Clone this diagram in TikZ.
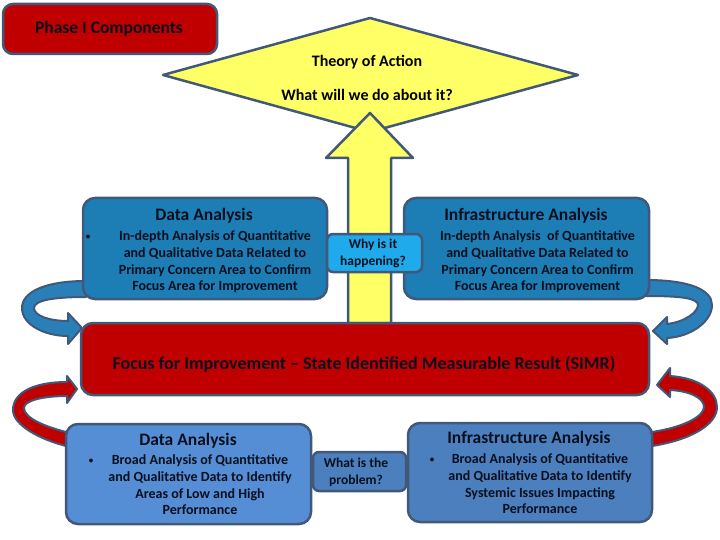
\documentclass[tikz,border=0pt]{standalone}
\usepackage{fontspec}
\setmainfont{Carlito}
\definecolor{bord}{RGB}{65,88,120}
\definecolor{simred}{RGB}{192,0,0}
\definecolor{topblue}{RGB}{29,125,181}
\definecolor{whyblue}{RGB}{30,170,235}
\definecolor{botblue}{RGB}{85,142,213}
\definecolor{botbluetwo}{RGB}{76,127,190}
\definecolor{yel}{RGB}{255,255,102}
\definecolor{arrblue}{RGB}{41,128,185}
\definecolor{txt}{RGB}{10,15,30}
\tikzset{
  box/.style={draw=bord, line width=2.5pt, rounded corners=12pt, inner sep=0pt, rectangle},
  smallbox/.style={box, rounded corners=6pt},
  shape outline/.style={draw=bord, line width=2pt, line join=round},
  titletext/.style={font=\fontsize{17.5}{20}\selectfont\bfseries, text=txt, inner sep=0pt},
  bodytext/.style={font=\fontsize{14}{16.7}\selectfont\bfseries, text=txt, inner sep=0pt, align=center},
  qtext/.style={font=\fontsize{13.5}{17}\selectfont\bfseries, text=txt, inner sep=0pt, align=center},
  bullettext/.style={font=\fontsize{9}{10}\selectfont\bfseries, text=txt, inner sep=0pt},
}
\begin{document}
\begin{tikzpicture}[x=1pt,y=-1pt]
\useasboundingbox (0,0) rectangle (720,540);
\fill[white] (0,0) rectangle (720,540);

% curved arrows (behind boxes)
\filldraw[shape outline, fill=arrblue]
  (86,281) .. controls (45,281) and (22,292) .. (22,308)
  .. controls (22,325) and (45,336) .. (68,336) -- (68,344) -- (82,328) -- (68,313) -- (68,321)
  .. controls (50,321) and (34,316) .. (34,308)
  .. controls (34,300) and (55,297) .. (86,297) -- cycle;
\filldraw[shape outline, fill=arrblue]
  (646,280) .. controls (690,280) and (712,290) .. (712,305)
  .. controls (712,322) and (690,337) .. (667,338) -- (667,344) -- (653,331) -- (667,317) -- (667,324)
  .. controls (685,322) and (698,312) .. (698,305)
  .. controls (698,298) and (680,296) .. (646,296) -- cycle;
\filldraw[shape outline, fill=simred]
  (67,382) .. controls (35,382) and (13,392) .. (13,410)
  .. controls (13,425) and (40,440) .. (70,447) -- (70,433)
  .. controls (45,427) and (24,418) .. (24,408)
  .. controls (24,400) and (45,396) .. (67,396) -- (67,403) -- (77,389) -- (67,376) -- cycle;
\filldraw[shape outline, fill=simred]
  (670,376) .. controls (700,378) and (717,392) .. (717,407)
  .. controls (717,425) and (690,440) .. (652,446) -- (652,432)
  .. controls (685,427) and (704,416) .. (704,407)
  .. controls (704,398) and (690,391) .. (670,390) -- (670,397) -- (657,385) -- (670,368) -- cycle;

% Phase box
\node[box, rounded corners=10pt, fill=simred, minimum width=214pt, minimum height=50pt] (phase) at (110,29) {};
\node[titletext] (phasetext) at (109,29) {Phase I Components};

% diamond
\filldraw[shape outline, fill=yel, line width=2.5pt] (163,75) -- (370,18) -- (578,75) -- (370,132) -- cycle;
\node[font=\fontsize{16}{19}\selectfont\bfseries, inner sep=0pt] (theory) at (367,62) {Theory of Action};
\node[font=\fontsize{16}{19}\selectfont\bfseries, inner sep=0pt] (whatwill) at (367,95) {What will we do about it?};

% up arrow
\filldraw[shape outline, fill=yel, line width=2.5pt]
  (348,323) -- (348,158) -- (326,158) -- (370,113) -- (413,158) -- (391,158) -- (391,323) -- cycle;

% top boxes
\node[box, fill=topblue, minimum width=244pt, minimum height=101pt] (tl) at (205,248.5) {};
\node[titletext] (tltitle) at (204,216) {Data Analysis};
\node[bullettext] (tlbullet) at (88,237) {•};
\node[bodytext] (tlbody) at (215,262) {In-depth Analysis of Quantitative\\and Qualitative Data Related to\\Primary Concern Area to Confirm\\Focus Area for Improvement};

\node[box, fill=topblue, minimum width=245pt, minimum height=101pt] (tr) at (526.5,248.5) {};
\node[titletext] (trtitle) at (526,216) {Infrastructure Analysis};
\node[bodytext] (trbody) at (537.5,262) {In-depth Analysis\ \ of Quantitative\\and Qualitative Data Related to\\Primary Concern Area to Confirm\\Focus Area for Improvement};

\node[smallbox, fill=whyblue, minimum width=95pt, minimum height=38pt] (why) at (374.5,253) {};
\node[qtext] (whytext) at (373,253.5) {Why is it\\happening?};

% SIMR
\node[box, fill=simred, minimum width=568pt, minimum height=72pt] (simr) at (365,359) {};
\node[font=\fontsize{18}{21}\selectfont\bfseries, text=txt, inner sep=0pt] (simrtext) at (364,364) {Focus for Improvement – State Identified Measurable Result (SIMR)};

% bottom boxes
\node[box, fill=botblue, minimum width=245pt, minimum height=100pt] (bl) at (188.5,474) {};
\node[titletext] (bltitle) at (188,441) {Data Analysis};
\node[bullettext] (blbullet) at (91,461) {•};
\node[bodytext] (blbody) at (200,485) {Broad Analysis of Quantitative\\and Qualitative Data to Identify\\Areas of Low and High\\Performance};

\node[smallbox, fill=botbluetwo, minimum width=93pt, minimum height=39pt] (what) at (359.5,471.5) {};
\node[qtext] (whattext) at (356,472) {What is the\\problem?};

\node[box, fill=botbluetwo, minimum width=244pt, minimum height=99pt] (br) at (530,472.5) {};
\node[titletext] (brtitle) at (529,439) {Infrastructure Analysis};
\node[bullettext] (brbullet) at (432,460) {•};
\node[bodytext] (brbody) at (540,484) {Broad Analysis of Quantitative\\and Qualitative Data to Identify\\Systemic Issues Impacting\\Performance};
\end{tikzpicture}
\end{document}
